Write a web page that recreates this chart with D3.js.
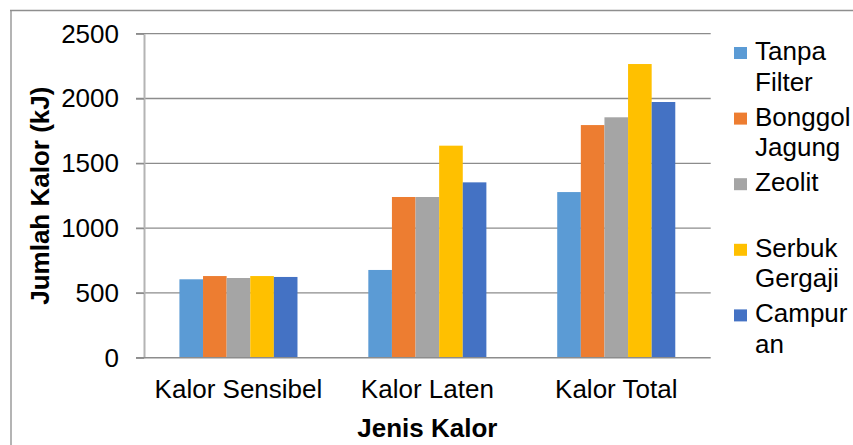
<!DOCTYPE html>
<html>
<head>
<meta charset="utf-8">
<script src="https://cdn.jsdelivr.net/npm/d3@7"></script>
<style>
  html, body { margin: 0; padding: 0; background: #fff; }
  svg { display: block; font-family: "Liberation Sans", Arial, sans-serif; }
</style>
</head>
<body>
<svg id="chart" width="853" height="445"></svg>
<script>
// Heat quantities per filter type (kJ)
const categories = ["Kalor Sensibel", "Kalor Laten", "Kalor Total"];
const seriesNames = ["Tanpa Filter", "Bonggol Jagung", "Zeolit", "Serbuk Gergaji", "Campuran"];
const legendLines = [["Tanpa", "Filter"], ["Bonggol", "Jagung"], ["Zeolit"], ["Serbuk", "Gergaji"], ["Campur", "an"]];
const tanpaFilter   = [605, 677, 1278];
const bonggolJagung = [630, 1240, 1795];
const zeolit        = [615, 1240, 1855];
const serbukGergaji = [630, 1636, 2266];
const campuran      = [623, 1353, 1973];
const yTicks = [0, 500, 1000, 1500, 2000, 2500];
const colors = ["#5B9BD5", "#ED7D31", "#A5A5A5", "#FFC000", "#4472C4"];

const seriesValues = [tanpaFilter, bonggolJagung, zeolit, serbukGergaji, campuran];

const svg = d3.select("#chart");
const plot = { left: 144, right: 710.7, top: 33.7, bottom: 357.7 };

// chart area border (left and top edges visible)
svg.append("line").attr("x1", 11).attr("x2", 11).attr("y1", 10).attr("y2", 445)
  .attr("stroke", "#b4b4b4").attr("stroke-width", 2);
svg.append("line").attr("x1", 10).attr("x2", 853).attr("y1", 10.5).attr("y2", 10.5)
  .attr("stroke", "#8e8e8e").attr("stroke-width", 1.5);

const y = d3.scaleLinear().domain([0, 2500]).range([plot.bottom, plot.top]);
const x0 = d3.scaleBand().domain(categories).range([plot.left, plot.right])
  .paddingInner(0.375).paddingOuter(0.1875);
const x1 = d3.scaleBand().domain(seriesNames).range([0, x0.bandwidth()]);

// horizontal gridlines
svg.append("g").selectAll("line").data(yTicks.filter(t => t > 0)).join("line")
  .attr("x1", plot.left - 8).attr("x2", plot.right)
  .attr("y1", d => y(d)).attr("y2", d => y(d))
  .attr("stroke", "#8c8c8c").attr("stroke-width", 1.3);

// bars
const groups = svg.append("g").selectAll("g").data(categories).join("g")
  .attr("transform", d => `translate(${x0(d)},0)`);
groups.selectAll("rect")
  .data((c, ci) => seriesNames.map((s, si) => ({ s, si, v: seriesValues[si][ci] })))
  .join("rect")
  .attr("x", d => x1(d.s))
  .attr("width", x1.bandwidth())
  .attr("y", d => y(d.v))
  .attr("height", d => y(0) - y(d.v))
  .attr("fill", d => colors[d.si]);

// y axis
const yAxis = svg.append("g").attr("transform", `translate(${plot.left},0)`)
  .call(d3.axisLeft(y).tickValues(yTicks).tickFormat(d3.format("d"))
    .tickSize(8).tickSizeOuter(0).tickPadding(17));
yAxis.select(".domain").attr("stroke", "#b4b4b4").attr("stroke-width", 2);
yAxis.selectAll(".tick line").attr("stroke", "#8c8c8c").attr("stroke-width", 1.3);
yAxis.selectAll(".tick text").attr("font-size", 26).attr("fill", "#000")
  .attr("font-family", "Liberation Sans, Arial, sans-serif");

// x axis
const xAxis = svg.append("g").attr("transform", `translate(0,${plot.bottom})`)
  .call(d3.axisBottom(x0).tickSize(0).tickSizeOuter(0).tickPadding(22));
xAxis.select(".domain").attr("stroke", "#8c8c8c").attr("stroke-width", 1.5)
  .attr("d", `M${plot.left - 8},0H${plot.right}`);
xAxis.selectAll(".tick text").attr("font-size", 26).attr("fill", "#000")
  .attr("font-family", "Liberation Sans, Arial, sans-serif");

// axis titles
svg.append("text").attr("x", (plot.left + plot.right) / 2).attr("y", 436.5)
  .attr("text-anchor", "middle").attr("font-size", 26).attr("font-weight", "bold")
  .text("Jenis Kalor");
svg.append("text").attr("transform", `translate(49,${(plot.top + plot.bottom) / 2}) rotate(-90)`)
  .attr("text-anchor", "middle").attr("font-size", 26).attr("font-weight", "bold")
  .text("Jumlah Kalor (kJ)");

// legend
const legend = svg.append("g").selectAll("g").data(seriesNames).join("g")
  .attr("transform", (d, i) => `translate(734,${60 + i * 65.6})`);
legend.append("rect").attr("x", 0).attr("y", -13).attr("width", 13).attr("height", 12)
  .attr("fill", (d, i) => colors[i]);
legend.append("text").attr("x", 21).attr("y", 0).attr("font-size", 26)
  .selectAll("tspan").data((d, i) => legendLines[i]).join("tspan")
  .attr("x", 21).attr("dy", (d, j) => j === 0 ? 0 : 30.7)
  .text(d => d);
</script>
</body>
</html>
